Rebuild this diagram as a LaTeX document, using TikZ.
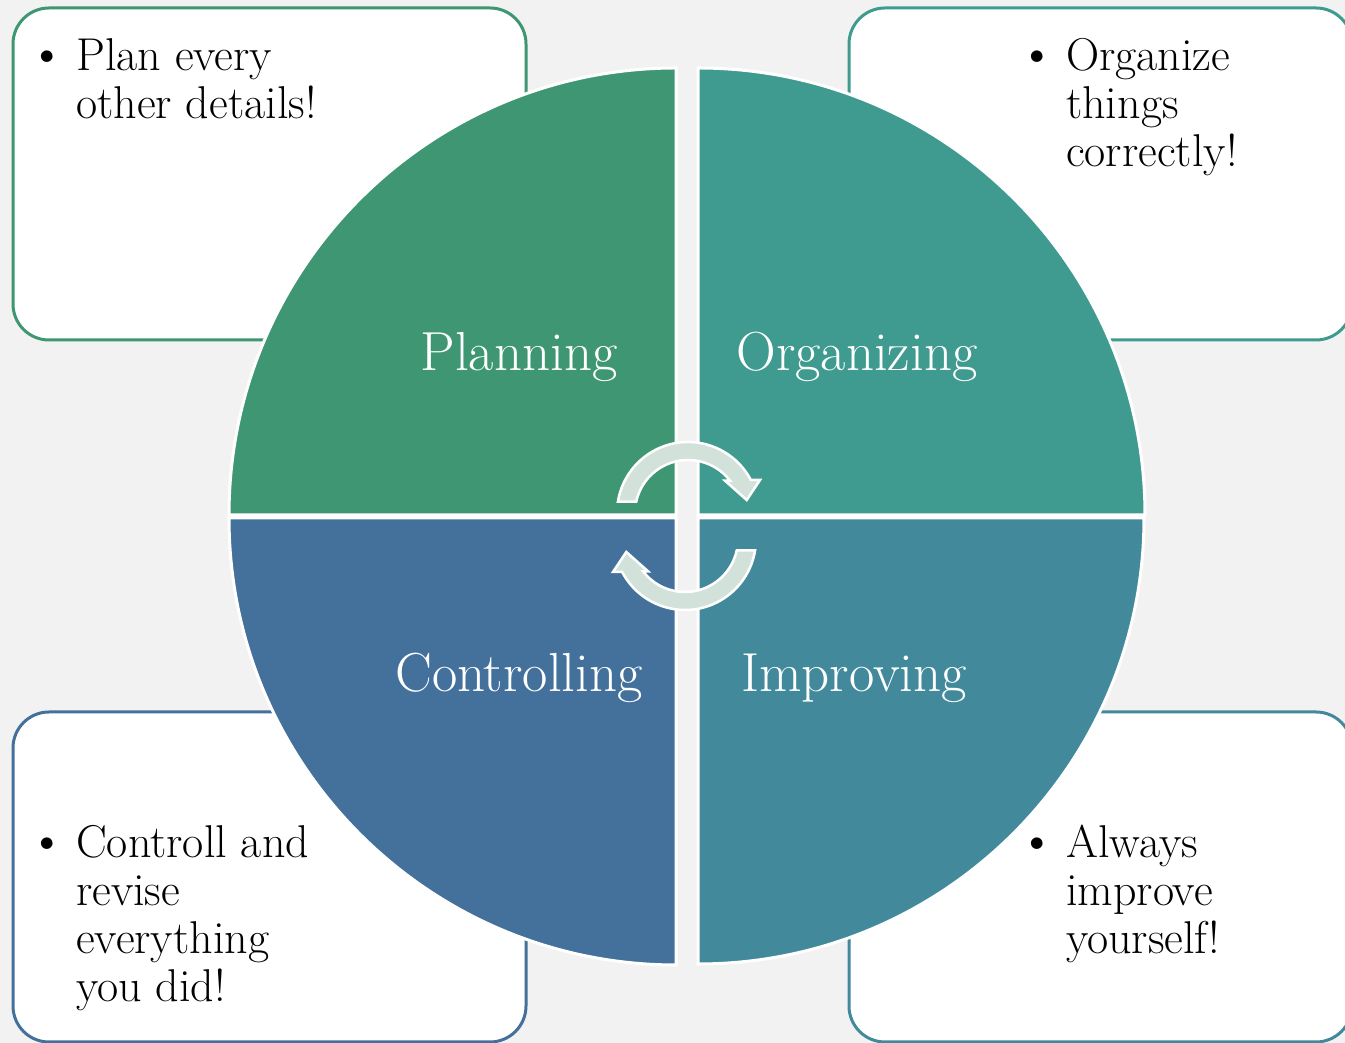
\documentclass[tikz,border=0pt]{standalone}
\usepackage{xcolor}
\definecolor{bg}{HTML}{F2F2F2}
\definecolor{cplan}{HTML}{3E9772}
\definecolor{corg}{HTML}{3F9A8F}
\definecolor{cctrl}{HTML}{44719C}
\definecolor{cimpr}{HTML}{428A9B}
\definecolor{arrowfill}{HTML}{D2E2DB}
\begin{document}
\begin{tikzpicture}[x=1pt,y=1pt,
  infobox/.style={line width=3pt, fill=white, rounded corners=36pt},
  wedge/.style={draw=white, line width=3pt},
  lbl/.style={text=white, font=\fontsize{55}{64}\selectfont, inner sep=0, anchor=base},
  btxt/.style={font=\fontsize{46}{48}\selectfont, inner sep=0, anchor=base west},
  bul/.style={font=\fontsize{52}{48}\selectfont, inner sep=0, anchor=base},
  cyc/.style={fill=arrowfill, draw=white, line width=2.5pt, line join=miter}]
\useasboundingbox (0,0) rectangle (1345,1043);
\clip (0,0) rectangle (1345,1043);
\fill[bg] (0,0) rectangle (1345,1043);

% boxes
\draw[infobox, draw=cplan] (13,703) rectangle (526,1035);
\draw[infobox, draw=corg] (849,703) rectangle (1352,1035);
\draw[infobox, draw=cctrl] (13,1) rectangle (526,331);
\draw[infobox, draw=cimpr] (849,1) rectangle (1352,331);

% wedges
\filldraw[wedge, fill=cplan] (676,528) -- ++(180:447pt) arc[start angle=180, end angle=90, radius=447pt] -- cycle;
\filldraw[wedge, fill=corg] (698,528) -- ++(0:447pt) arc[start angle=0, end angle=90, radius=447pt] -- cycle;
\filldraw[wedge, fill=cctrl] (676,525) -- ++(180:447pt) arc[start angle=180, end angle=270, radius=447pt] -- cycle;
\filldraw[wedge, fill=cimpr] (698,525) -- ++(0:446pt) arc[start angle=0, end angle=-90, radius=446pt] -- cycle;

% labels
\node[lbl] (planning) at (519,672) {Planning};
\node[lbl] (organizing) at (857,672) {Organizing};
\node[lbl] (controlling) at (519,351) {Controlling};
\node[lbl] (improving) at (854,351) {Improving};

% cycle arrows
\begin{scope}[shift={(688,530)}]
\draw[cyc] (170.8:71pt) arc[start angle=170.8, end angle=27.7, radius=71pt]
  -- (72pt,33pt) -- (58.7pt,13pt) -- (37pt,32.3pt) -- (37.6:53pt)
  arc[start angle=37.6, end angle=167.7, radius=53pt] -- cycle;
\end{scope}
\begin{scope}[shift={(685,504)}]
\draw[cyc] (350.8:71pt) arc[start angle=350.8, end angle=207.7, radius=71pt]
  -- (-72pt,-33pt) -- (-58.7pt,-13pt) -- (-37pt,-32.3pt) -- (217.6:53pt)
  arc[start angle=217.6, end angle=347.7, radius=53pt] -- cycle;
\end{scope}

% bullet texts
\node[bul] (b1) at (47,972) {\textbullet};
\node[btxt] (t1) at (76,972) {\begin{tabular}[t]{@{}l@{}}Plan every\\ other details!\end{tabular}};
\node[bul] (b2) at (1037,972) {\textbullet};
\node[btxt] (t2) at (1066,972) {\begin{tabular}[t]{@{}l@{}}Organize\\ things\\ correctly!\end{tabular}};
\node[bul] (b3) at (47,185) {\textbullet};
\node[btxt] (t3) at (76,185) {\begin{tabular}[t]{@{}l@{}}Controll and\\ revise\\ everything\\ you did!\end{tabular}};
\node[bul] (b4) at (1037,185) {\textbullet};
\node[btxt] (t4) at (1066,185) {\begin{tabular}[t]{@{}l@{}}Always\\ improve\\ yourself!\end{tabular}};
\end{tikzpicture}
\end{document}
